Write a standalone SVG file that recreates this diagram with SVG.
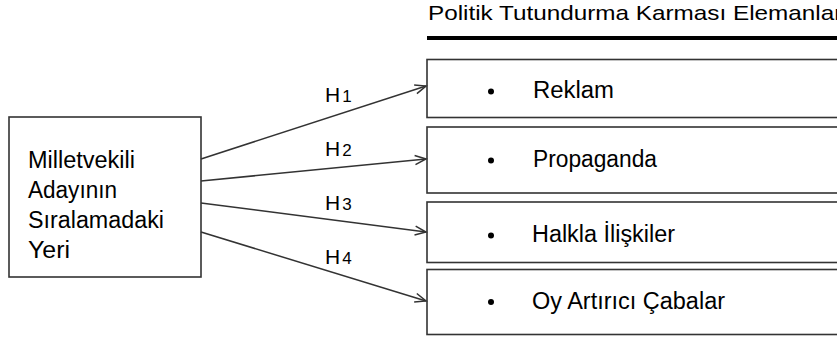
<svg xmlns="http://www.w3.org/2000/svg" width="837" height="338" viewBox="0 0 837 338">
<style>
.t{font-family:"Liberation Sans",Arial,sans-serif;font-size:23px;fill:#000}
.ti{font-family:"Liberation Sans",Arial,sans-serif;font-size:21px;fill:#000}
.h{font-family:"Liberation Sans",Arial,sans-serif;font-size:21px;fill:#000}
.box{fill:#fff;stroke:#333;stroke-width:1.6}
.con{stroke:#333;stroke-width:1.5;fill:none}
</style>
<defs>
<marker id="ah" markerUnits="userSpaceOnUse" markerWidth="14" markerHeight="12" refX="12" refY="6" orient="auto" viewBox="0 0 14 12">
<path d="M1,1.5 L12,6 L1,10.5" fill="none" stroke="#333" stroke-width="1.5"/>
</marker>
</defs>
<rect width="837" height="338" fill="#fff"/>
<g id="title">
<text class="ti" x="428" y="20" textLength="421" lengthAdjust="spacingAndGlyphs">Politik Tutundurma Karması Elemanları</text>
<line x1="427" y1="38" x2="840" y2="38" stroke="#000" stroke-width="4"/>
</g>
<g id="source">
<rect class="box" x="9" y="117" width="192" height="160"/>
<text class="t" x="28" y="168" textLength="107" lengthAdjust="spacingAndGlyphs">Milletvekili</text>
<text class="t" x="28" y="198" textLength="89" lengthAdjust="spacingAndGlyphs">Adayının</text>
<text class="t" x="28" y="228" textLength="136" lengthAdjust="spacingAndGlyphs">Sıralamadaki</text>
<text class="t" x="28" y="258" textLength="42" lengthAdjust="spacingAndGlyphs">Yeri</text>
</g>
<g id="reklam">
<rect class="box" x="427" y="59.5" width="430" height="58"/>
<circle cx="491" cy="91.5" r="3"/>
<text class="t" x="533" y="98" textLength="81" lengthAdjust="spacingAndGlyphs">Reklam</text>
</g>
<g id="propaganda">
<rect class="box" x="427" y="127" width="430" height="66"/>
<circle cx="491" cy="160.5" r="3"/>
<text class="t" x="533" y="167" textLength="124" lengthAdjust="spacingAndGlyphs">Propaganda</text>
</g>
<g id="halkla">
<rect class="box" x="427" y="202" width="430" height="60.5"/>
<circle cx="491" cy="235.5" r="3"/>
<text class="t" x="532" y="242" textLength="143" lengthAdjust="spacingAndGlyphs">Halkla İlişkiler</text>
</g>
<g id="oy">
<rect class="box" x="427" y="269.5" width="430" height="65"/>
<circle cx="491" cy="302" r="3"/>
<text class="t" x="532" y="308.5" textLength="193" lengthAdjust="spacingAndGlyphs">Oy Artırıcı Çabalar</text>
</g>
<g id="connectors">
<line class="con" x1="201" y1="159" x2="426" y2="86" marker-end="url(#ah)"/>
<line class="con" x1="201" y1="181" x2="426" y2="159" marker-end="url(#ah)"/>
<line class="con" x1="201" y1="203" x2="426" y2="232" marker-end="url(#ah)"/>
<line class="con" x1="201" y1="232" x2="426" y2="301" marker-end="url(#ah)"/>
</g>
<g id="labels">
<text class="h" x="325" y="102">H<tspan font-size="17" dx="2">1</tspan></text>
<text class="h" x="325" y="156">H<tspan font-size="17" dx="2">2</tspan></text>
<text class="h" x="325" y="210">H<tspan font-size="17" dx="2">3</tspan></text>
<text class="h" x="325" y="264">H<tspan font-size="17" dx="2">4</tspan></text>
</g>
</svg>
